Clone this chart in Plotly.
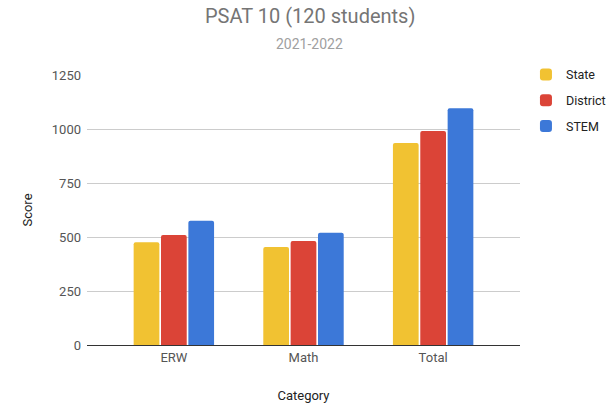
import plotly.graph_objects as go

categories = ["ERW", "Math", "Total"]
state = [476, 454, 935]
district = [509, 482, 991]
stem = [575, 520, 1096]
series_names = ["State", "District", "STEM"]
y_ticks = [0, 250, 500, 750, 1000, 1250]
title_text = "PSAT 10 (120 students)"
subtitle_text = "2021-2022"

colors = ["#F1C232", "#DB4437", "#3C78D8"]

fig = go.Figure()
for name, vals, c in zip(series_names, [state, district, stem], colors):
    fig.add_trace(go.Bar(x=categories, y=vals, name=name, legendgroup=name,
                         marker=dict(color=c, line=dict(width=0))))

fig.add_annotation(text=title_text, xref="paper", yref="paper", x=0.515, y=1.2185,
                   xanchor="center", yanchor="middle", showarrow=False,
                   font=dict(family="Roboto", size=20, color="#757575"))
fig.add_annotation(text=subtitle_text, xref="paper", yref="paper", x=0.515, y=1.115,
                   xanchor="center", yanchor="middle", showarrow=False,
                   font=dict(family="Roboto", size=14, color="#a0a0a0"))

fig.update_layout(
    width=613, height=404,
    margin=dict(l=87, r=93, t=75, b=59, autoexpand=False),
    paper_bgcolor="white", plot_bgcolor="white",
    font=dict(family="Roboto", color="#444444", size=12),
    barmode="group", bargap=0.367, bargroupgap=0.06,
    barcornerradius=2,
    xaxis=dict(
        range=[-0.67, 2.67], showgrid=False, showline=True, linecolor="#333333", linewidth=1,
        ticks="", tickfont=dict(size=13, color="#555555"),
        title=dict(text="Category", font=dict(size=13, color="#222222"), standoff=27),
    ),
    yaxis=dict(
        range=[0, 1250], tickvals=y_ticks, showgrid=True, gridcolor="#cccccc", zeroline=False,
        ticks="", tickfont=dict(size=13, color="#555555"), ticklabelstandoff=5,
        title=dict(text="Score", font=dict(size=13, color="#222222"), standoff=16),
    ),
    legend=dict(
        xref="container", yref="container",
        x=0.858, xanchor="left", y=0.8515, yanchor="top",
        font=dict(size=12.5, color="#222222"), tracegroupgap=6.5,
        itemwidth=30, bgcolor="rgba(0,0,0,0)",
    ),
    showlegend=True,
)

fig.write_html("out.html", config={"displayModeBar": False},
               post_script="document.body.style.margin='0px';document.body.style.overflow='hidden';")
